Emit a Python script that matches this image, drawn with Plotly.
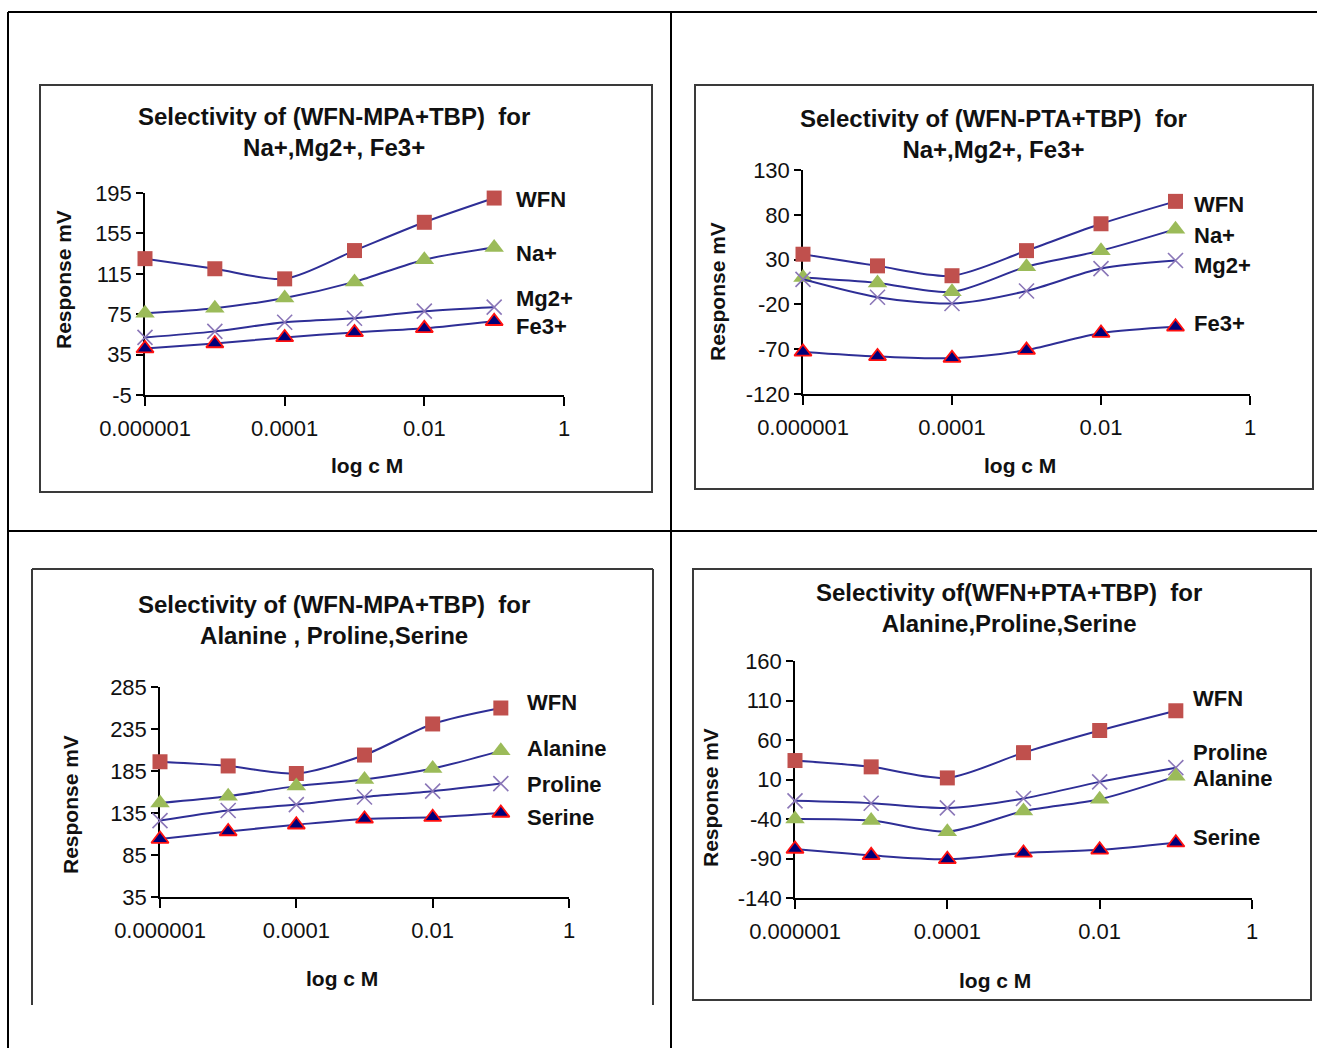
import plotly.graph_objects as go

W, H = 1317, 1048

# ---------------- data ----------------
conc = [1e-6, 1e-5, 1e-4, 1e-3, 1e-2, 1e-1]
x_tickvals = [1e-6, 1e-4, 1e-2, 1]
x_ticktext = ["0.000001", "0.0001", "0.01", "1"]

# Top-left: (WFN-MPA+TBP) for Na+, Mg2+, Fe3+
tl_wfn = [130, 120, 110, 138, 166, 190]
tl_na = [76, 81, 91, 107, 129, 141]
tl_mg = [52, 58, 67, 71, 78, 82]
tl_fe = [41, 46, 52, 57, 61, 68]
tl_yticks = [-5, 35, 75, 115, 155, 195]

# Top-right: (WFN-PTA+TBP) for Na+, Mg2+, Fe3+
tr_wfn = [36, 23, 12, 40, 70, 95]
tr_na = [10, 4, -6, 22, 40, 64]
tr_mg = [8, -12, -19, -5, 20, 29]
tr_fe = [-73, -78, -80, -71, -52, -45]
tr_yticks = [-120, -70, -20, 30, 80, 130]

# Bottom-left: (WFN-MPA+TBP) for Alanine, Proline, Serine
bl_wfn = [196, 191, 182, 204, 241, 260]
bl_ala = [147, 155, 167, 175, 188, 209]
bl_pro = [126, 138, 145, 154, 161, 170]
bl_ser = [104, 113, 121, 128, 130, 135]
bl_yticks = [35, 85, 135, 185, 235, 285]

# Bottom-right: (WFN+PTA+TBP) for Alanine, Proline, Serine
br_wfn = [34, 26, 12, 44, 72, 97]
br_pro = [-17, -20, -26, -14, 7, 25]
br_ala = [-40, -42, -56, -30, -15, 14]
br_ser = [-78, -86, -91, -83, -79, -70]
br_yticks = [-140, -90, -40, 10, 60, 110, 160]

# ---------------- styles ----------------
FONT = "Arial, Liberation Sans, sans-serif"
LINE = "#2E2E96"
TXT = "#111111"

STYLE = {
    "sq": dict(symbol="square", color="#C0504D", size=15, line=dict(width=0)),
    "tri": dict(symbol="triangle-up", color="#9BBB59", size=17, line=dict(width=0)),
    "x": dict(symbol="x-thin", color="#8B77B8", size=15, line=dict(width=1.6, color="#8B77B8")),
    "fe": dict(symbol="triangle-up", color="#00007A", size=15, line=dict(width=1.8, color="#FF1010")),
}


def px_x(p):
    return p / W


def px_y(p):
    return 1 - p / H


panels = [
    dict(
        ax=(145, 564, 193, 395), yr=(-5, 195), yt=tl_yticks,
        title="Selectivity of (WFN-MPA+TBP)  for<br>Na+,Mg2+, Fe3+", tpos=(334, 132),
        ytit=(63, 280), xtit=(367, 465),
        series=[("WFN", tl_wfn, "sq", 189), ("Na+", tl_na, "tri", 135),
                ("Mg2+", tl_mg, "x", 91), ("Fe3+", tl_fe, "fe", 63)],
        labx=-0.72,
    ),
    dict(
        ax=(803, 1250, 170, 394), yr=(-120, 130), yt=tr_yticks,
        title="Selectivity of (WFN-PTA+TBP)  for<br>Na+,Mg2+, Fe3+", tpos=(994, 134),
        ytit=(718, 292), xtit=(1020, 465),
        series=[("WFN", tr_wfn, "sq", 92), ("Na+", tr_na, "tri", 57),
                ("Mg2+", tr_mg, "x", 23), ("Fe3+", tr_fe, "fe", -41)],
        labx=-0.78,
    ),
    dict(
        ax=(160, 569, 687, 897), yr=(35, 285), yt=bl_yticks,
        title="Selectivity of (WFN-MPA+TBP)  for<br>Alanine , Proline,Serine", tpos=(334, 620),
        ytit=(70, 805), xtit=(342, 978),
        series=[("WFN", bl_wfn, "sq", 266), ("Alanine", bl_ala, "tri", 212),
                ("Proline", bl_pro, "x", 169), ("Serine", bl_ser, "fe", 130)],
        labx=-0.65,
    ),
    dict(
        ax=(795, 1252, 661, 898), yr=(-140, 160), yt=br_yticks,
        title="Selectivity of(WFN+PTA+TBP)  for<br>Alanine,Proline,Serine", tpos=(1009, 608),
        ytit=(710, 798), xtit=(995, 980),
        series=[("WFN", br_wfn, "sq", 113), ("Proline", br_pro, "x", 44),
                ("Alanine", br_ala, "tri", 11), ("Serine", br_ser, "fe", -64)],
        labx=-0.80,
    ),
]

fig = go.Figure()
annotations = []

for i, p in enumerate(panels):
    n = "" if i == 0 else str(i + 1)
    xa, ya = "x" + n, "y" + n
    x0, x1, y0, y1 = p["ax"]
    for name, vals, st, _ in p["series"]:
        fig.add_trace(go.Scatter(
            x=conc, y=vals, name=name, xaxis=xa, yaxis=ya,
            mode="lines+markers", line=dict(color=LINE, width=2, shape="spline", smoothing=0.8),
            marker=STYLE[st], cliponaxis=False, showlegend=False,
        ))

    common = dict(showgrid=False, zeroline=False, showline=True, linecolor="#000000", linewidth=1.5,
                  ticks="outside", tickwidth=1.5, tickcolor="#000000", automargin=False,
                  tickfont=dict(family=FONT, size=22, color=TXT), layer="below traces")
    fig.update_layout(**{
        "xaxis" + n: dict(domain=[px_x(x0), px_x(x1)], anchor=ya, type="log", range=[-6, 0],
                          tickvals=x_tickvals, ticktext=x_ticktext, ticklen=9,
                          ticklabelstandoff=4, **common),
        "yaxis" + n: dict(domain=[px_y(y1), px_y(y0)], anchor=xa, range=list(p["yr"]),
                          tickvals=p["yt"], ticktext=[str(v) for v in p["yt"]], ticklen=7, **common),
    })
    # series labels
    for name, vals, st, ly in p["series"]:
        annotations.append(dict(x=p["labx"], y=ly, xref=xa, yref=ya, text="<b>%s</b>" % name,
                                showarrow=False, xanchor="left", yanchor="middle",
                                font=dict(family=FONT, size=22, color=TXT)))
    # chart title
    annotations.append(dict(x=px_x(p["tpos"][0]), y=px_y(p["tpos"][1]), xref="paper", yref="paper",
                            text="<b>%s</b>" % p["title"], showarrow=False, xanchor="center", yanchor="middle",
                            font=dict(family=FONT, size=24, color=TXT)))
    # axis titles
    annotations.append(dict(x=px_x(p["ytit"][0]), y=px_y(p["ytit"][1]), xref="paper", yref="paper",
                            text="<b>Response mV</b>", textangle=-90, showarrow=False,
                            xanchor="center", yanchor="middle", font=dict(family=FONT, size=21, color=TXT)))
    annotations.append(dict(x=px_x(p["xtit"][0]), y=px_y(p["xtit"][1]), xref="paper", yref="paper",
                            text="<b>log c M</b>", showarrow=False,
                            xanchor="center", yanchor="middle", font=dict(family=FONT, size=21, color=TXT)))

shapes = []


def pline(xa, ya, xb, yb, color="#000000", width=2):
    shapes.append(dict(type="line", xref="paper", yref="paper", x0=px_x(xa), y0=px_y(ya),
                       x1=px_x(xb), y1=px_y(yb), line=dict(color=color, width=width)))


# outer table grid
pline(8, 12, 1317, 12)
pline(8, 12, 8, 1048)
pline(671, 12, 671, 1048)
pline(8, 531, 1317, 531)

# chart frames
FR = "#3A3A3A"
for (a, b, c, d) in [(40, 85, 652, 492), (695, 85, 1313, 489), (693, 569, 1311, 1000)]:
    shapes.append(dict(type="rect", xref="paper", yref="paper", x0=px_x(a), y0=px_y(d),
                       x1=px_x(c), y1=px_y(b), line=dict(color=FR, width=2)))
pline(32, 569, 653, 569, FR, 2)
pline(32, 569, 32, 1005, FR, 2)
pline(653, 569, 653, 1005, FR, 2)

fig.update_layout(
    width=W, height=H, margin=dict(l=0, r=0, t=0, b=0, pad=0, autoexpand=False),
    paper_bgcolor="#FFFFFF", plot_bgcolor="rgba(0,0,0,0)",
    annotations=annotations, shapes=shapes, showlegend=False,
    font=dict(family=FONT, color=TXT),
)

fig.write_html("out.html")
